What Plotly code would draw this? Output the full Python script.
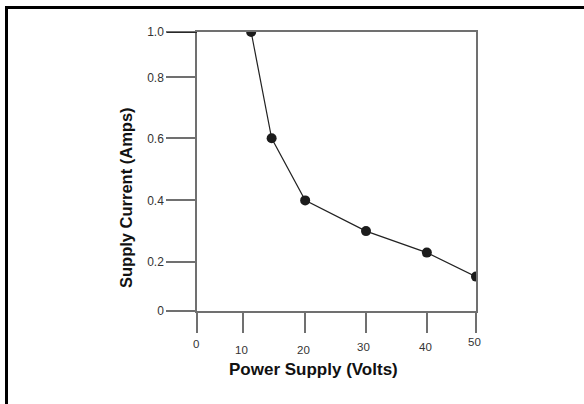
import numpy as np
import plotly.graph_objects as go

# ---- data ----
volts = [11.3, 14.6, 20, 30, 40, 50]
amps = [1.0, 0.6, 0.4, 0.3, 0.23, 0.14]

x_ticks = [0, 10, 20, 30, 40, 50]
x_tick_labels = ["0", "10", "20", "30", "40", "50"]
y_ticks = [0, 0.2, 0.4, 0.6, 0.8, 1.0]
y_tick_labels = ["0", "0.2", "0.4", "0.6", "0.8", "1.0"]

# ---- the printed (non-uniform) ruling of each axis, in tick-spacing units ----
X_RULE = [0, 0.75, 1.76, 2.75, 3.74, 4.54]
Y_RULE = [0, 0.80, 1.80, 2.81, 3.80, 4.54]
AX_MAX = 4.54


def wx(v):
    return np.interp(v, x_ticks, X_RULE)


def wy(v):
    return np.interp(v, y_ticks, Y_RULE)


# label drop below the x axis line (px), per tick, as printed
X_LABEL_DROP = [33, 39, 39, 36, 36, 31]
X_LABEL_NUDGE = [-1, -2, -2, -3, -1, -2]

AXIS_GREY = "#707070"
FONT = "Liberation Sans, Arial, sans-serif"

fig = go.Figure()
fig.add_trace(go.Scatter(
    x=wx(volts), y=wy(amps), mode="lines+markers",
    line=dict(color="#222222", width=1.2),
    marker=dict(color="#1c1c1c", size=10),
    showlegend=False, hoverinfo="skip",
))

annotations = []
for t, lab, d, n in zip(x_ticks, x_tick_labels, X_LABEL_DROP, X_LABEL_NUDGE):
    annotations.append(dict(
        x=float(wx(t)), xref="x", y=0, yref="paper", text=lab, showarrow=False,
        xanchor="center", yanchor="middle", yshift=-d, xshift=n,
        font=dict(family=FONT, size=11.5, color="#333333"),
    ))

annotations.append(dict(
    x=(313.5 - 197) / 279, xref="paper", y=0, yref="paper",
    text="<b>Power Supply (Volts)</b>", showarrow=False,
    xanchor="center", yanchor="middle", yshift=-58,
    font=dict(family=FONT, size=17, color="#111111"),
))
annotations.append(dict(
    x=(126 - 197) / 279, xref="paper", y=(311 - 198) / 279, yref="paper",
    text="<b>Supply Current (Amps)</b>", showarrow=False, textangle=-90,
    xanchor="center", yanchor="middle",
    font=dict(family=FONT, size=16.5, color="#111111"),
))

shapes = [
    # outer frame (top and left edges)
    dict(type="line", xref="paper", yref="paper",
         x0=(5 - 197) / 279, x1=(590 - 197) / 279,
         y0=(311 - 7.5) / 279, y1=(311 - 7.5) / 279,
         line=dict(color="black", width=3)),
    dict(type="line", xref="paper", yref="paper",
         x0=(6.5 - 197) / 279, x1=(6.5 - 197) / 279,
         y0=(311 - 6) / 279, y1=(311 - 410) / 279,
         line=dict(color="black", width=3)),
    # the darker 1.0 tick
    dict(type="line", xref="paper", yref="y",
         x0=(167 - 197) / 279, x1=0, y0=float(wy(1.0)), y1=float(wy(1.0)),
         line=dict(color="#111111", width=1.5)),
]

fig.update_layout(
    width=584, height=404, autosize=False,
    margin=dict(l=197, r=108, t=32, b=93),
    paper_bgcolor="white", plot_bgcolor="white",
    font=dict(family=FONT, color="#333333"),
    annotations=annotations, shapes=shapes,
    xaxis=dict(
        range=[0, AX_MAX], showgrid=False, zeroline=False,
        showline=True, mirror=True, linecolor=AXIS_GREY, linewidth=1.5,
        ticks="outside", ticklen=20, tickwidth=1.5, tickcolor=AXIS_GREY,
        tickmode="array", tickvals=[float(v) for v in wx(x_ticks)],
        showticklabels=False, fixedrange=True,
    ),
    yaxis=dict(
        range=[0, AX_MAX], showgrid=False, zeroline=False,
        showline=True, mirror=True, linecolor=AXIS_GREY, linewidth=1.5,
        ticks="outside", ticklen=29, tickwidth=1.5, tickcolor=AXIS_GREY,
        tickmode="array", tickvals=[float(v) for v in wy(y_ticks)],
        ticktext=y_tick_labels,
        tickfont=dict(family=FONT, size=12, color="#333333"),
        fixedrange=True,
    ),
)

fig.write_html(
    "out.html",
    config={"displayModeBar": False},
    post_script="document.body.style.margin='0px';",
)
